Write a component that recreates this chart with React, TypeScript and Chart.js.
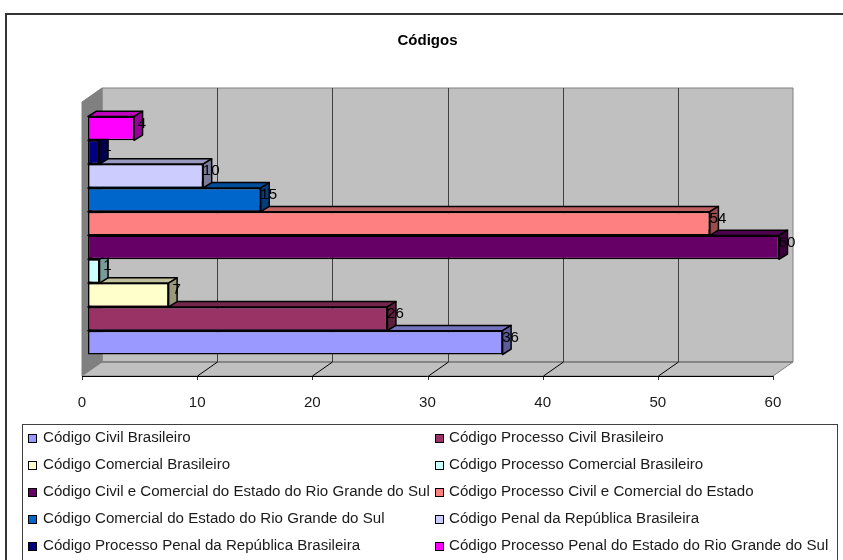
import React, { useEffect, useRef } from "react";
import { Chart, registerables } from "chart.js";

Chart.register(...registerables);

const seriesLabels = [
  "Código Civil Brasileiro",
  "Código Processo Civil Brasileiro",
  "Código Comercial Brasileiro",
  "Código Processo Comercial Brasileiro",
  "Código Civil e Comercial do Estado do Rio Grande do Sul",
  "Código Processo Civil e Comercial do Estado",
  "Código Comercial do Estado do Rio Grande do Sul",
  "Código Penal da República Brasileira",
  "Código Processo Penal da República Brasileira",
  "Código Processo Penal do Estado do Rio Grande do Sul",
];
const seriesValues = [36, 26, 7, 1, 60, 54, 15, 10, 1, 4];
const seriesColors = ["#9999FF", "#993366", "#FFFFCC", "#CCFFFF", "#660066", "#FF8080", "#0066CC", "#CCCCFF", "#000080", "#FF00FF"];
const categories = ["Códigos"];
const FONT = "'Liberation Sans', Arial, sans-serif";
const TEXT = "#1a1a1a";
const FONT_SIZE = 15.1;

// 3D geometry of the fake Excel box, in pixels
const WALL_DX = 20;
const WALL_DY = 14;
const BAR_SHIFT_X = 6;
const BAR_SHIFT_Y = -3.5;
const BAR_DX = 8.5;
const BAR_DY = 5.3;
const BAR_LINE = 1.5;

function shade(hex: string, f: number) {
  const n = parseInt(hex.slice(1), 16);
  const r = Math.round(((n >> 16) & 255) * f);
  const g = Math.round(((n >> 8) & 255) * f);
  const b = Math.round((n & 255) * f);
  return `rgb(${r},${g},${b})`;
}

function poly(ctx: CanvasRenderingContext2D, pts: number[][], fill: string | null, stroke: string | null, lw = 1) {
  ctx.beginPath();
  pts.forEach((p, i) => (i ? ctx.lineTo(p[0], p[1]) : ctx.moveTo(p[0], p[1])));
  ctx.closePath();
  if (fill) {
    ctx.fillStyle = fill;
    ctx.fill();
  }
  if (stroke) {
    ctx.strokeStyle = stroke;
    ctx.lineWidth = lw;
    ctx.stroke();
  }
}

function seg(ctx: CanvasRenderingContext2D, x1: number, y1: number, x2: number, y2: number, color: string, lw = 1) {
  ctx.beginPath();
  ctx.moveTo(x1, y1);
  ctx.lineTo(x2, y2);
  ctx.strokeStyle = color;
  ctx.lineWidth = lw;
  ctx.stroke();
}

const box3d = {
  id: "box3d",
  beforeDraw(chart: any) {
    const { ctx, width, height } = chart;
    ctx.save();
    ctx.fillStyle = "#fff";
    ctx.fillRect(0, 0, width, height);
    ctx.strokeStyle = "#333";
    ctx.lineWidth = 2;
    ctx.strokeRect(6, 14, width + 40, height + 40);
    ctx.restore();
  },
  beforeDatasetsDraw(chart: any) {
    const { ctx, chartArea: a, scales } = chart;
    const { left: l, right: r, top: t, bottom: b } = a;
    const dx = WALL_DX;
    const dy = WALL_DY;
    ctx.save();
    poly(ctx, [[l + dx, t - dy], [r + dx, t - dy], [r + dx, b - dy], [l + dx, b - dy]], "#C0C0C0", "#808080");
    poly(ctx, [[l, t], [l + dx, t - dy], [l + dx, b - dy], [l, b]], "#808080", "#808080");
    poly(ctx, [[l, b], [l + dx, b - dy], [r + dx, b - dy], [r, b]], "#C0C0C0", "#808080", 1);
    seg(ctx, l + dx, b - dy, r + dx, b - dy, "#808080", 1.5);
    scales.x.ticks.forEach((tk: any) => {
      const x = Math.round(scales.x.getPixelForValue(tk.value)) + 0.5;
      const last = tk.value === scales.x.max;
      if (tk.value !== scales.x.min && !last) {
        seg(ctx, x + dx, t - dy, x + dx, b - dy, "#404040");
        seg(ctx, x, b, x + dx, b - dy, "#000");
      }
      seg(ctx, x, b, x, b + 4, "#333");
    });
    seg(ctx, l, b + 0.5, r, b + 0.5, "#000");
    ctx.restore();
  },
  beforeDatasetDraw(chart: any, args: any) {
    const { ctx } = chart;
    const el = args.meta.data[0];
    const color = seriesColors[args.index];
    const top = el.y - el.height / 2;
    const bot = el.y + el.height / 2;
    const right = el.x;
    const left = el.base;
    ctx.save();
    ctx.translate(BAR_SHIFT_X, BAR_SHIFT_Y);
    ctx.lineJoin = "round";
    poly(ctx, [[left, top], [left + BAR_DX, top - BAR_DY], [right + BAR_DX, top - BAR_DY], [right, top]], shade(color, 0.75), "#000", BAR_LINE);
    poly(ctx, [[right, top], [right + BAR_DX, top - BAR_DY], [right + BAR_DX, bot - BAR_DY], [right, bot]], shade(color, 0.6), "#000", BAR_LINE);
  },
  afterDatasetDraw(chart: any) {
    chart.ctx.restore();
  },
  afterDatasetsDraw(chart: any) {
    const { ctx } = chart;
    ctx.save();
    ctx.font = `${FONT_SIZE}px ${FONT}`;
    ctx.fillStyle = "#000";
    ctx.textAlign = "center";
    ctx.textBaseline = "middle";
    chart.data.datasets.forEach((ds: any, i: number) => {
      const el = chart.getDatasetMeta(i).data[0];
      ctx.fillText(String(ds.data[0]), el.x + BAR_SHIFT_X + 8, el.y + BAR_SHIFT_Y - 5);
    });
    ctx.restore();
  },
  afterDraw(chart: any) {
    const { ctx } = chart;
    ctx.save();
    ctx.strokeStyle = "#404040";
    ctx.lineWidth = 1;
    ctx.strokeRect(22.5, 424.5, 815, 200);
    ctx.font = `${FONT_SIZE}px ${FONT}`;
    ctx.textAlign = "left";
    ctx.textBaseline = "middle";
    chart.data.datasets.forEach((ds: any, i: number) => {
      const col = i % 2;
      const row = Math.floor(i / 2);
      const y = 438 + row * 27;
      const sx = col ? 435.5 : 28.5;
      ctx.fillStyle = seriesColors[i];
      ctx.fillRect(sx, y - 3.5, 8, 8);
      ctx.strokeStyle = "#000";
      ctx.strokeRect(sx, y - 3.5, 8, 8);
      ctx.fillStyle = TEXT;
      ctx.fillText(ds.label, col ? 449 : 43, y);
    });
    ctx.restore();
  },
};

export default function App() {
  const ref = useRef<HTMLCanvasElement>(null);
  useEffect(() => {
    document.body.style.margin = "0";
    const chart = new Chart(ref.current as HTMLCanvasElement, {
      type: "bar",
      data: {
        labels: categories,
        datasets: seriesLabels.map((label, i) => ({
          label,
          data: [seriesValues[i]],
          backgroundColor: seriesColors[i],
          borderColor: "#000",
          borderWidth: BAR_LINE,
          borderSkipped: false,
          order: seriesLabels.length - i,
          clip: false as any,
          barPercentage: 1,
          categoryPercentage: 0.8686,
        })),
      },
      options: {
        indexAxis: "y",
        responsive: false,
        animation: false,
        layout: { padding: { left: 82, right: 70, top: 0, bottom: 0 } },
        plugins: {
          legend: { display: false },
          tooltip: { enabled: false },
          title: {
            display: true,
            text: "Códigos",
            color: "#000",
            font: { family: FONT, size: 15, weight: "bold", lineHeight: 1.2 },
            padding: { top: 32, bottom: 52 },
          },
        },
        scales: {
          y: { display: false },
          x: {
            min: 0,
            max: 60,
            afterFit: (s: any) => {
              s.height = 184;
            },
            border: { display: false },
            grid: { display: false },
            ticks: {
              stepSize: 10,
              autoSkip: false,
              maxRotation: 0,
              padding: 10,
              color: TEXT,
              font: { family: FONT, size: FONT_SIZE },
            },
          },
        },
      },
      plugins: [box3d],
    } as any);
    return () => chart.destroy();
  }, []);
  return <canvas ref={ref} width={843} height={560} style={{ display: "block" }} />;
}
